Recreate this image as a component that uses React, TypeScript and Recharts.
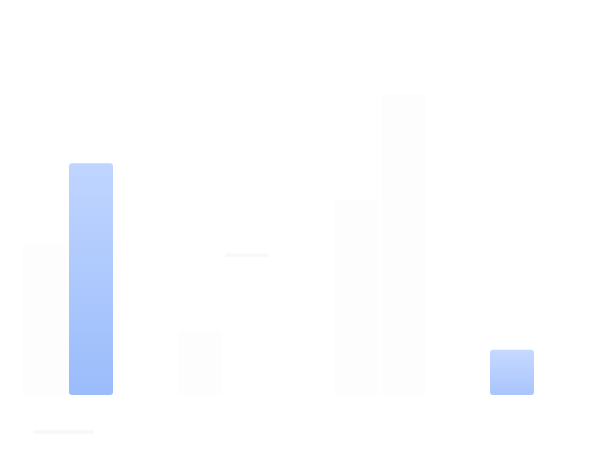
import React from "react";
import { BarChart, Bar, XAxis, YAxis, Cell } from "recharts";

const categories = ["Q1", "Q2", "Q3", "Q4"];
const seriesA = [50, 21, 65, 15];
const seriesB = [77, 47, 100, 0];
const seriesC = [0, 0, 0, 0];

const fillsA = ["#fdfdfd", "#fdfdfd", "#fdfdfd", "url(#blueShort)"];
const fillsB = ["url(#blueTall)", "url(#topLine)", "#fdfdfd", "#ffffff"];

const data = categories.map((name, i) => ({
  name,
  a: seriesA[i],
  b: seriesB[i],
  c: seriesC[i],
}));

export default function App() {
  return (
    <div
      style={{
        position: "relative",
        width: 596,
        height: 441,
        overflow: "hidden",
        fontFamily: "Inter, sans-serif",
      }}
    >
      <BarChart
        width={640}
        height={441}
        data={data}
        margin={{ top: 86, right: 11, bottom: 54, left: 5 }}
        barSize={44}
        barGap={3}
      >
        <defs>
          <linearGradient id="blueTall" x1="0" y1="0" x2="0" y2="1">
            <stop offset="0%" stopColor="#c0d5ff" />
            <stop offset="100%" stopColor="#9abcfb" />
          </linearGradient>
          <linearGradient id="blueShort" x1="0" y1="0" x2="0" y2="1">
            <stop offset="0%" stopColor="#c6d9ff" />
            <stop offset="100%" stopColor="#a9c5fd" />
          </linearGradient>
          <linearGradient id="topLine" x1="0" y1="0" x2="0" y2="1">
            <stop offset="0%" stopColor="#f8f8f8" />
            <stop offset="2%" stopColor="#f8f8f8" />
            <stop offset="2.5%" stopColor="#ffffff" />
            <stop offset="100%" stopColor="#ffffff" />
          </linearGradient>
        </defs>
        <XAxis dataKey="name" hide />
        <YAxis domain={[0, 100]} hide />
        <Bar dataKey="a" radius={3} isAnimationActive={false}>
          {data.map((_, i) => (
            <Cell key={`a-${i}`} fill={fillsA[i]} />
          ))}
        </Bar>
        <Bar dataKey="b" radius={3} isAnimationActive={false}>
          {data.map((_, i) => (
            <Cell key={`b-${i}`} fill={fillsB[i]} />
          ))}
        </Bar>
        <Bar dataKey="c" fill="#ffffff" isAnimationActive={false} />
      </BarChart>
      <div
        style={{
          position: "absolute",
          left: 25,
          top: 422,
          width: 61,
          height: 4,
          borderRadius: 2,
          background: "#f8f8f8",
        }}
      />
    </div>
  );
}
